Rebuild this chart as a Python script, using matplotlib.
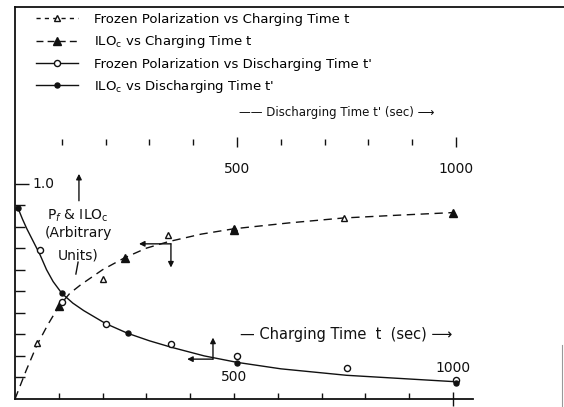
import matplotlib
matplotlib.use("Agg")
import matplotlib.pyplot as plt
from matplotlib.lines import Line2D
from matplotlib.legend_handler import HandlerTuple

# ---------------- data ----------------
# Frozen polarization vs charging time t  (open triangles)
fp_charge_t = [50, 200, 350, 500, 750]
fp_charge_v = [0.26, 0.555, 0.76, 0.795, 0.84]
# ILOc vs charging time t  (filled triangles)
ilo_charge_t = [100, 250, 500, 1000]
ilo_charge_v = [0.43, 0.655, 0.785, 0.865]
# Frozen polarization vs discharging time t'  (open circles)
fp_dis_t = [50, 100, 200, 350, 500, 750, 1000]
fp_dis_v = [0.69, 0.45, 0.35, 0.255, 0.20, 0.144, 0.088]
# ILOc vs discharging time t'  (filled dots)
ilo_dis_t = [0, 100, 250, 500, 1000]
ilo_dis_v = [0.885, 0.49, 0.305, 0.167, 0.074]

# hand-drawn curves
charge_curve_t = [0, 25, 50, 75, 100, 125, 150, 175, 200, 250, 300, 350, 425,
                  500, 625, 750, 875, 1000]
charge_curve_v = [0, 0.13, 0.25, 0.345, 0.43, 0.49, 0.53, 0.565, 0.60, 0.655,
                  0.70, 0.73, 0.765, 0.79, 0.817, 0.84, 0.853, 0.865]
dis_curve_t = [0, 10, 20, 35, 50, 65, 80, 100, 125, 150, 200, 250, 300, 350,
               425, 500, 600, 750, 875, 1000]
dis_curve_v = [0.885, 0.835, 0.79, 0.73, 0.67, 0.60, 0.545, 0.49, 0.445, 0.41,
               0.35, 0.305, 0.27, 0.24, 0.20, 0.17, 0.14, 0.11, 0.095, 0.08]

bottom_ticks_minor = [100, 200, 300, 400, 500, 600, 700, 800, 900]
bottom_ticks_major = [1000]
bottom_tick_labels = ["500", "1000"]
bottom_label_pos = [500, 1000]
top_ticks_minor = [100, 200, 300, 400, 600, 700, 800, 900]
top_ticks_major = [500, 1000]
top_tick_labels = ["500", "1000"]
y_ticks_minor = [0.1, 0.2, 0.3, 0.4, 0.5, 0.6, 0.7, 0.8, 0.9]
y_tick_major = [1.0]
y_tick_label = "1.0"

legend_labels = [
    "Frozen Polarization vs Charging Time t",
    r"ILO$_\mathregular{c}$ vs Charging Time t",
    "Frozen Polarization vs Discharging Time t'",
    r"ILO$_\mathregular{c}$ vs Discharging Time t'",
]

# ---------------- figure ----------------
plt.rcParams['font.family'] = ['DejaVu Sans']
W, H = 564, 407
fig = plt.figure(figsize=(W / 100, H / 100), dpi=100)
x0, y0, ytop = 15, 399, 7
ax = fig.add_axes([x0 / W, (H - y0) / H, (W - x0) / W, (y0 - ytop) / H])
ax.set_xlim(0, (W - x0) / 0.438)
ax.set_ylim(0, (y0 - ytop) / 215.5)

ink = "#111111"
OFF = 7  # small offset of the discharging (top) scale


def dis_to_t(tp):
    return [v + OFF for v in tp] if isinstance(tp, list) else tp + OFF


def t_to_dis(t):
    return t - OFF


# curves
dash = (0, (6, 4))
cline, = ax.plot(charge_curve_t, charge_curve_v, color=ink, lw=1.0,
                 linestyle=dash)
dline, = ax.plot(dis_to_t(dis_curve_t), dis_curve_v, color=ink, lw=1.0)

# markers
m1, = ax.plot(fp_charge_t, fp_charge_v, linestyle='none', marker='^', ms=4.5,
              mfc='white', mec=ink, mew=1.0)
m2, = ax.plot(ilo_charge_t, ilo_charge_v, linestyle='none', marker='^',
              ms=5.5, mfc=ink, mec=ink)
m3, = ax.plot(dis_to_t(fp_dis_t), fp_dis_v, linestyle='none', marker='o',
              ms=4.4, mfc='white', mec=ink, mew=1.0)
m4, = ax.plot(dis_to_t(ilo_dis_t), ilo_dis_v, linestyle='none', marker='o',
              ms=3.6, mfc=ink, mec=ink)
for m in (m1, m2, m3, m4):
    m.set_zorder(4)

# spines / frame
ax.spines['right'].set_visible(False)
for s in ('left', 'top', 'bottom'):
    ax.spines[s].set_color(ink)
    ax.spines[s].set_linewidth(1.3)
ax.spines['bottom'].set_bounds(0, 1045)

# bottom ticks
ax.set_xticks(bottom_ticks_major)
ax.set_xticks(bottom_ticks_minor, minor=True)
ax.tick_params(axis='x', which='minor', direction='in', length=4, width=1,
               color=ink, labelbottom=False)
ax.tick_params(axis='x', which='major', direction='inout', length=10, width=1,
               color=ink, labelbottom=False)
for lab, pos, yv in zip(bottom_tick_labels, bottom_label_pos, [0.103, 0.145]):
    ax.text(pos, yv, lab, ha='center', va='center', fontsize=10, color=ink)

# left ticks
ax.set_yticks(y_tick_major)
ax.set_yticks(y_ticks_minor, minor=True)
ax.tick_params(axis='y', which='major', direction='in', length=10, width=1,
               color=ink, labelleft=False)
ax.tick_params(axis='y', which='minor', direction='in', length=7, width=1,
               color=ink)
ax.text(66, 1.0, y_tick_label, ha='center', va='center', fontsize=10,
        color=ink)

# top (discharging) scale, drawn inside the plot
sec = ax.secondary_xaxis(257 / 392, functions=(t_to_dis, dis_to_t))
sec.set_alignment('bottom')
sec.spines['bottom'].set_visible(False)
sec.spines['top'].set_visible(False)
sec.set_xticks(top_ticks_major, top_tick_labels)
sec.set_xticks(top_ticks_minor, minor=True)
sec.tick_params(axis='x', which='major', direction='inout', length=7, width=1,
                color=ink, pad=11, labelsize=10, labelcolor=ink)
sec.tick_params(axis='x', which='minor', direction='inout', length=5, width=1,
                color=ink)

# arrows
ap = dict(arrowstyle='-|>', color=ink, lw=1.0, mutation_scale=8,
          shrinkA=0, shrinkB=0)
ax.annotate('', xy=(146, 1.045), xytext=(146, 0.92), arrowprops=ap)
ax.plot([144, 139], [0.635, 0.58], color=ink, lw=1.0)
ax.annotate('', xy=(283, 0.72), xytext=(356, 0.72), arrowprops=ap)
ax.annotate('', xy=(356, 0.61), xytext=(356, 0.72), arrowprops=ap)
ax.annotate('', xy=(452, 0.285), xytext=(452, 0.185), arrowprops=ap)
ax.annotate('', xy=(393, 0.185), xytext=(452, 0.185), arrowprops=ap)

# axis annotation texts
ax.text(144, 0.85, r"P$_f$ & ILO$_\mathregular{c}$", ha='center',
        va='center', fontsize=10, color=ink)
ax.text(144, 0.77, "(Arbitrary", ha='center', va='center', fontsize=10,
        color=ink)
ax.text(144, 0.667, "Units)", ha='center', va='center', fontsize=10,
        color=ink)
ax.text(514, 0.30, "\u2014 Charging Time  t  (sec) \u27f6", ha='left',
        va='center', fontsize=10.5, color=ink)
ax.text(512, 1.33, "\u2014\u2014 Discharging Time t' (sec) \u27f6", ha='left',
        va='center', fontsize=8.5, color=ink)

# legend
h1 = (Line2D([], [], color=ink, lw=1.0, linestyle=(0, (3, 3))), m1)
h2 = (Line2D([], [], color=ink, lw=1.0, linestyle=(0, (5, 3))), m2)
h3 = (Line2D([], [], color=ink, lw=1.0), m3)
h4 = (Line2D([], [], color=ink, lw=1.0), m4)
leg = ax.legend([h1, h2, h3, h4], legend_labels,
                handler_map={tuple: HandlerTuple(ndivide=1)},
                loc='upper left', bbox_to_anchor=(36 / W, 1 - 13 / H),
                bbox_transform=fig.transFigure, frameon=False, fontsize=9.5,
                handlelength=3.2, handletextpad=1.2, labelspacing=0.55,
                borderpad=0, borderaxespad=0)

# scanned-frame fragment at the right edge
fig.add_artist(Line2D([561.5 / W, 561.5 / W], [0, (H - 345) / H],
                      transform=fig.transFigure, color="#999999", lw=0.8))

fig.savefig("out.png", dpi=100, facecolor='white')
